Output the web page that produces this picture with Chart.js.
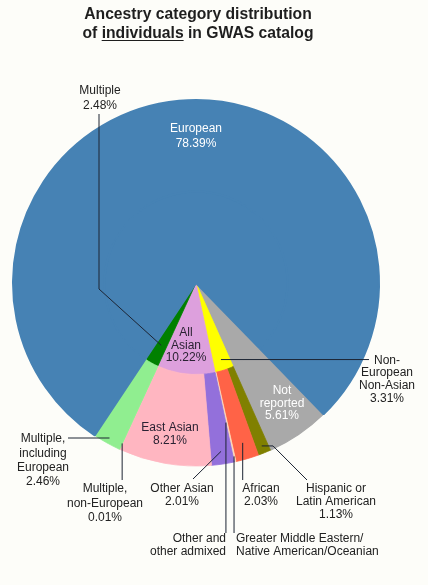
<!DOCTYPE html>
<html><head><meta charset="utf-8">
<script src="https://cdn.jsdelivr.net/npm/chart.js@4.4.0/dist/chart.umd.min.js"></script>
<style>
html,body{margin:0;padding:0;background:#fdfdf9;}
body{width:428px;height:585px;position:relative;overflow:hidden;font-family:"Liberation Sans",Arial,sans-serif;}
#wrap{position:absolute;left:0;top:0;width:428px;height:585px;}
#title{position:absolute;left:0;top:5px;width:396px;text-align:center;font-weight:bold;font-size:15.7px;line-height:18.5px;color:#1e1e1e;}
#title u{text-underline-offset:2px;}
</style></head><body>
<div id="wrap"><canvas id="c" width="428" height="585"></canvas></div>
<div id="title">Ancestry category distribution<br>of <u>individuals</u> in GWAS catalog</div>
<script>
// Inner ring (aggregated groups), clockwise from "Not reported"
const innerCategories = ["Not reported", "Non-European Non-Asian", "All Asian", "Multiple", "European"];
const innerValues = [5.61, 3.31, 10.22, 2.48, 78.39];
// Outer ring (detailed categories), same order
const outerCategories = ["Not reported", "Hispanic or Latin American", "African",
  "Greater Middle Eastern/Native American/Oceanian", "Other and other admixed",
  "Other Asian", "East Asian", "Multiple, non-European", "Multiple, including European", "European"];
const outerValues = [5.61, 1.13, 2.03, 0.14, 0.01, 2.01, 8.21, 0.01, 2.46, 78.39];

const innerColors = ["#a9a9a9", "#ffff00", "#dda0dd", "#008000", "#4682b4"];
const outerColors = ["#a9a9a9", "#808000", "#ff6347", "#ffdab9", "#ffe4c4", "#9370db", "#ffb6c1", "#98fb98", "#90ee90", "#4682b4"];
const innerBorders = [1.2, 0.8, 0.8, 0.8, 2];
const outerBorders = [1.2, 0.8, 0.8, 0.8, 0.8, 0.8, 0.8, 0.8, 0.8, 2];

const LINE = "#1c2433";
const TXT = "#222222";

const labelPlugin = {
  id: "labels",
  afterDraw(chart) {
    const ctx = chart.ctx;
    const outer = chart.getDatasetMeta(0).data;
    const inner = chart.getDatasetMeta(1).data;
    const R = outer[0].outerRadius, cx = outer[0].x, cy = outer[0].y;
    const pt = (arc, rf, af = 0.5) => {
      const a = arc.startAngle + (arc.endAngle - arc.startAngle) * af;
      return [cx + Math.cos(a) * R * rf, cy + Math.sin(a) * R * rf];
    };
    const poly = (pts) => {
      ctx.save(); ctx.strokeStyle = LINE; ctx.lineWidth = 1;
      ctx.beginPath(); ctx.moveTo(pts[0][0], pts[0][1]);
      for (let i = 1; i < pts.length; i++) ctx.lineTo(pts[i][0], pts[i][1]);
      ctx.stroke(); ctx.restore();
    };
    const text = (lines, x, y, lh, align = "center", color = TXT) => {
      ctx.save(); ctx.font = "12px 'Liberation Sans', Arial, sans-serif";
      ctx.fillStyle = color; ctx.textAlign = align; ctx.textBaseline = "middle";
      lines.forEach((l, i) => ctx.fillText(l, x, y + i * lh));
      ctx.restore();
    };

    // In-slice labels
    text(["European", "78.39%"], cx, cy - 154, 15, "center", "#ffffff");
    text(["All", "Asian", "10.22%"], cx - 10, cy + 50, 12.5, "center", "#2a2233");
    text(["Not", "reported", "5.61%"], cx + 86, cy + 108, 12.5, "center", "#ffffff");
    text(["East Asian", "8.21%"], cx - 26, cy + 145, 13, "center", "#2a2233");

    // Multiple (inner)
    let a = pt(inner[3], 0.39);
    poly([a, [99, 289], [99, 114]]);
    text(["Multiple", "2.48%"], 100, 91, 15);

    // Non-European Non-Asian (inner)
    a = pt(inner[1], 0.44);
    poly([a, [369, a[1]]]);
    text(["Non-", "European", "Non-Asian", "3.31%"], 387, a[1] + 1, 12.6);

    // Multiple, including European
    a = pt(outer[8], 0.97);
    poly([a, [68, a[1]]]);
    text(["Multiple,", "including", "European", "2.46%"], 43, 439, 14.3);

    // Multiple, non-European
    a = pt(outer[7], 0.965);
    poly([a, [a[0], 480]]);
    text(["Multiple,", "non-European", "0.01%"], 105, 489, 14.5);

    // Other Asian
    a = pt(outer[5], 0.93);
    poly([a, [193, 479]]);
    text(["Other Asian", "2.01%"], 182, 489, 13);

    // African
    a = pt(outer[2], 0.91);
    poly([a, [a[0], 480]]);
    text(["African", "2.03%"], 261, 489, 13);

    // Hispanic or Latin American
    a = pt(outer[1], 0.96);
    poly([a, [273, a[1]], [307, 480]]);
    text(["Hispanic or", "Latin American", "1.13%"], 336, 489, 13);

    // Other and other admixed
    a = pt(outer[4], 0.78);
    poly([a, [a[0], 533]]);
    text(["Other and", "other admixed"], 226, 539, 13, "right");

    // Greater Middle Eastern / Native American / Oceanian
    a = pt(outer[3], 0.97);
    poly([a, [a[0], 533]]);
    text(["Greater Middle Eastern/", "Native American/Oceanian"], 236, 539, 13, "left");
  }
};

new Chart(document.getElementById("c"), {
  type: "pie",
  data: {
    labels: outerCategories,
    datasets: [
      { label: "Detailed", data: outerValues, backgroundColor: outerColors, borderColor: outerColors, borderWidth: outerBorders },
      { label: "Grouped", data: innerValues, backgroundColor: innerColors, borderColor: innerColors, borderWidth: innerBorders }
    ]
  },
  options: {
    responsive: false,
    animation: false,
    rotation: 135.8,
    layout: { padding: { left: 12, right: 48, top: 99, bottom: 118 } },
    plugins: { legend: { display: false }, tooltip: { enabled: false }, title: { display: false } },
    events: []
  },
  plugins: [labelPlugin]
});
</script>
</body></html>
